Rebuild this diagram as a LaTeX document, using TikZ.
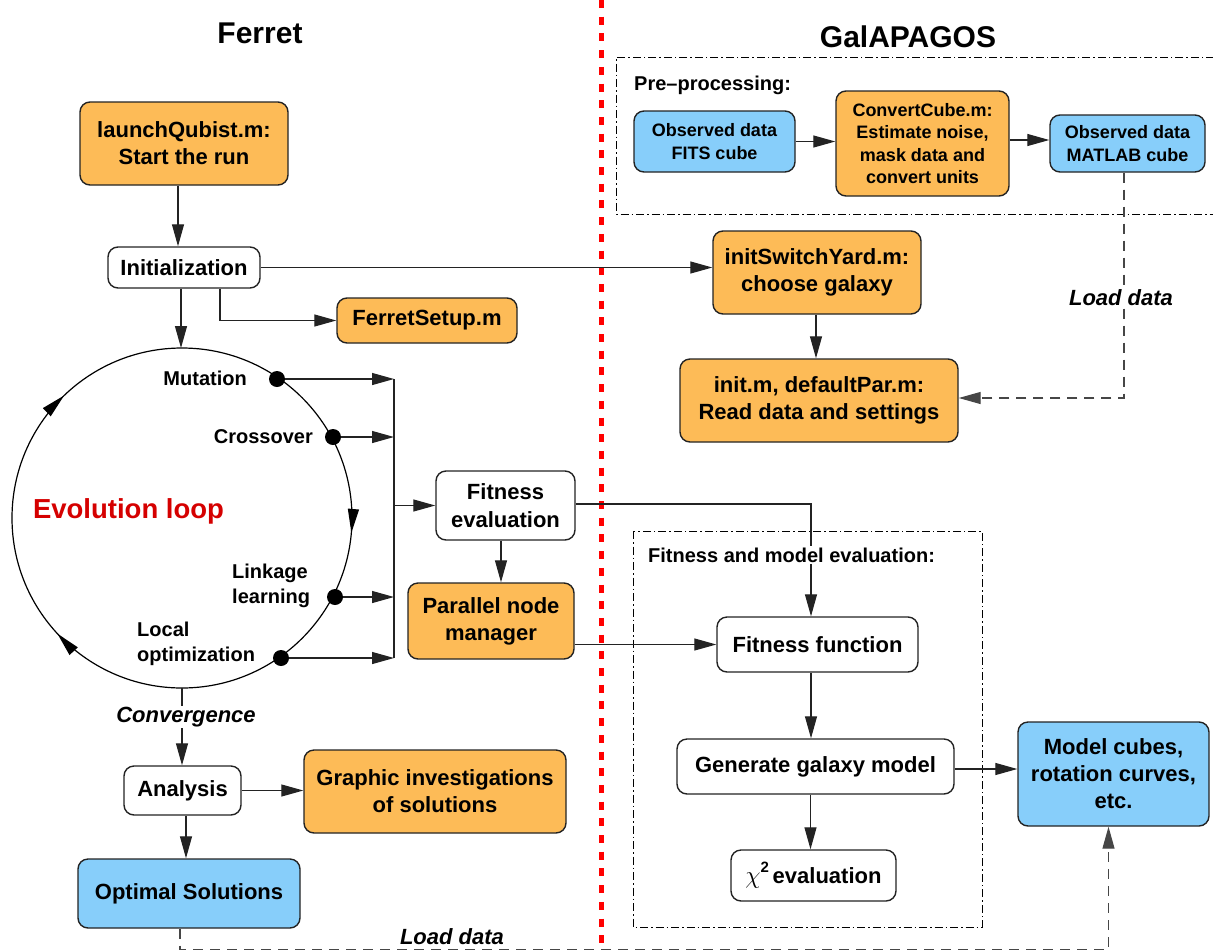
\documentclass[tikz,border=0pt]{standalone}
\usepackage{fontspec}
\setmainfont{Liberation Sans}
\usetikzlibrary{arrows.meta,decorations.markings}
\definecolor{boxorange}{RGB}{253,187,87}
\definecolor{boxblue}{RGB}{135,206,250}
\definecolor{loopred}{RGB}{213,0,0}
\definecolor{linegray}{RGB}{35,35,35}
\definecolor{dashgray}{RGB}{70,70,70}
\newcommand{\myfs}[2]{\fontsize{#1}{#2}\selectfont}
\begin{document}
\begin{tikzpicture}[x=1pt,y=-1pt,
  box/.style={draw=linegray, line width=1.4pt, rounded corners=10pt, align=center, inner sep=0pt, font=\bfseries\myfs{22}{27}},
  obox/.style={box, fill=boxorange},
  bbox/.style={box, fill=boxblue},
  wbox/.style={box, fill=white},
  small/.style={font=\bfseries\myfs{18}{22.5}},
  lab/.style={font=\bfseries\myfs{20}{25}, inner sep=0pt, align=left},
  ilab/.style={font=\bfseries\itshape\myfs{22}{26}, inner sep=1.5pt, fill=white},
  title/.style={font=\bfseries\myfs{30}{34}},
  arr/.style={-{Triangle[length=22pt,width=12pt]}, line width=1.2pt, draw=linegray},
  darr/.style={-{Triangle[length=22pt,width=12pt]}, line width=1.2pt, draw=dashgray, dash pattern=on 10pt off 7pt},
  dline/.style={line width=1.2pt, draw=dashgray, dash pattern=on 10pt off 7pt},
  dashdot/.style={line width=1pt, draw=black, dash pattern=on 8pt off 3pt on 1.5pt off 3pt},
  dot/.style={circle, fill=black, minimum size=16pt, inner sep=0pt},
  ln/.style={line width=1.2pt, draw=linegray}
]
\useasboundingbox (0,0) rectangle (1213,951);

% divider
\draw[red, line width=5pt, dash pattern=on 8pt off 8.7pt] (601,0) -- (601,951);

% titles
\node[title] (tferret) at (260,33) {Ferret};
\node[title] (tgal) at (908,37) {GalAPAGOS};

% group frames
\draw[dashdot] (1214,57) -- (616,57) -- (616,214) -- (1214,214);
\draw[dashdot] (633,531) rectangle (982,927);
\node[lab, anchor=west] (tpre) at (634,85) {Pre--processing:};

% ---------- Ferret side ----------
\node[obox, minimum width=208pt, minimum height=83pt] (launch) at (184,143.5) {launchQubist.m:\\Start the run};
\node[wbox, minimum width=152pt, minimum height=41pt] (init) at (184,267.5) {Initialization};
\node[obox, minimum width=180pt, minimum height=45pt] (fs) at (427,320.5) {FerretSetup.m};

% evolution loop
\coordinate (lc) at (182,518);
\coordinate (looptop) at (182,348);
\coordinate (loopbot) at (182,688);
\draw[line width=1.2pt, postaction={decorate, decoration={markings,
   mark=at position 0.014 with {\arrow{Triangle[length=24pt,width=11pt]}},
   mark=at position 0.381 with {\arrow{Triangle[length=24pt,width=11pt]}},
   mark=at position 0.628 with {\arrow{Triangle[length=24pt,width=11pt]}}}}]
   (lc) circle[radius=170];
\node[font=\bfseries\myfs{27.5}{30}, text=loopred] (evo) at (128.5,511) {Evolution loop};

\node[dot] (mut) at (277,379) {};
\node[dot] (cro) at (333,437) {};
\node[dot] (lin) at (335,597) {};
\node[dot] (loc) at (281,658) {};
\node[lab, anchor=east] (tmut) at (247,378) {Mutation};
\node[lab, anchor=east] (tcro) at (313,437) {Crossover};
\node[lab, anchor=west] (tlin) at (232,585.5) {Linkage\\learning};
\node[lab, anchor=west] (tloc) at (137,644) {Local\\optimization};

\coordinate (bt) at (394,379);
\coordinate (bb) at (394,658);
\draw[ln] (bt) -- (bb);
\draw[arr] (mut) -- (mut -| bt);
\draw[arr] (cro) -- (cro -| bt);
\draw[arr] (lin) -- (lin -| bt);
\draw[arr] (loc) -- (loc -| bt);

\node[wbox, minimum width=139pt, minimum height=69pt] (fe) at (505.5,505.5) {Fitness\\[1pt]evaluation};
\node[obox, minimum width=166pt, minimum height=76pt] (pnm) at (491,621) {Parallel node\\manager};
\draw[arr] (bt |- fe.west) -- (fe.west);

\node[wbox, minimum width=117pt, minimum height=49pt] (an) at (182.5,790.5) {Analysis};
\node[obox, minimum width=262pt, minimum height=83pt] (gi) at (435,791.5) {Graphic investigations\\of solutions};
\node[bbox, minimum width=222pt, minimum height=69pt] (opt) at (189,893.5) {Optimal Solutions};

% ---------- GalAPAGOS side ----------
\node[bbox, small, minimum width=161pt, minimum height=61pt] (fits) at (714.5,141.5) {Observed data\\FITS cube};
\node[obox, small, minimum width=173pt, minimum height=105pt] (cc) at (922.5,143.5) {ConvertCube.m:\\Estimate noise,\\mask data and\\convert units};
\node[bbox, small, minimum width=155pt, minimum height=57pt] (mat) at (1127.5,143.5) {Observed data\\MATLAB cube};
\node[obox, minimum width=208pt, minimum height=83pt] (isy) at (817,272.5) {initSwitchYard.m:\\choose galaxy};
\node[obox, minimum width=278pt, minimum height=83pt] (initm) at (819,400.5) {init.m, defaultPar.m:\\Read data and settings};

\node[wbox, minimum width=201pt, minimum height=55pt] (ff) at (817.5,644.5) {Fitness function};
\node[wbox, minimum width=277pt, minimum height=55pt] (gen) at (815.5,766.5) {Generate galaxy model};
\node[wbox, minimum width=165pt, minimum height=51pt] (chi) at (813.5,875.5) {{\myfs{24}{24}$\chi$}\raisebox{11pt}{\myfs{15}{15}2}\,evaluation};
\node[bbox, minimum width=191pt, minimum height=104pt] (model) at (1113.5,774) {Model cubes,\\rotation curves,\\etc.};

% ---------- connectors ----------
\draw[arr] ([xshift=-6pt]launch.south) -- ([xshift=-6pt]launch.south |- init.north);
\draw[arr] (init.east) -- (init.east -| isy.west);
\draw[arr] ([xshift=-3pt]init.south) -- ([xshift=-3pt]init.south |- looptop);
\draw[arr] ([xshift=36pt]init.south) |- (fs.west);

\draw[arr] (fits.east) -- (fits.east -| cc.west);
\draw[arr] ([yshift=3.5pt]cc.east) -- ([yshift=3.5pt]cc.east -| mat.west);
\draw[arr] ([xshift=-1pt]isy.south) -- ([xshift=-1pt]isy.south |- initm.north);
\draw[darr] ([xshift=-3.5pt]mat.south) |- ([yshift=2.5pt]initm.east);
\node[ilab] (ld1) at (1121,298) {Load data};

\draw[arr] ([xshift=-4.5pt]fe.south) -- ([xshift=-4.5pt]fe.south |- pnm.north);
\draw[arr] ([yshift=1.5pt]fe.east) -| ([xshift=-6.5pt]ff.north);
\node[lab, anchor=west, fill=white, inner sep=2pt] (tfme) at (646,555) {Fitness and model evaluation:};
\draw[arr] (pnm.east |- ff.west) -- (ff.west);
\draw[arr] ([xshift=-6.5pt]ff.south) -- ([xshift=-6.5pt]ff.south |- gen.north);
\draw[arr] ([xshift=-5pt]gen.south) -- ([xshift=-5pt]gen.south |- chi.north);
\draw[arr] ([yshift=-2.5pt]gen.east) -- ([yshift=-2.5pt]gen.east -| model.west);

\draw[arr] (loopbot) -- (loopbot |- an.north);
\node[ilab] (conv) at (186,717) {Convergence};
\draw[arr] (an.east) -- (an.east -| gi.west);
\draw[arr] ([xshift=3.5pt]an.south) -- ([xshift=3.5pt]an.south |- opt.north);

\coordinate (bottomline) at (0,949.5);
\draw[darr] ([xshift=-9pt]opt.south) -- ([xshift=-9pt]opt.south |- bottomline) -| ([xshift=-5pt]model.south);
\node[ilab, fill=none] (ld2) at (452,937) {Load data};
\end{tikzpicture}
\end{document}
